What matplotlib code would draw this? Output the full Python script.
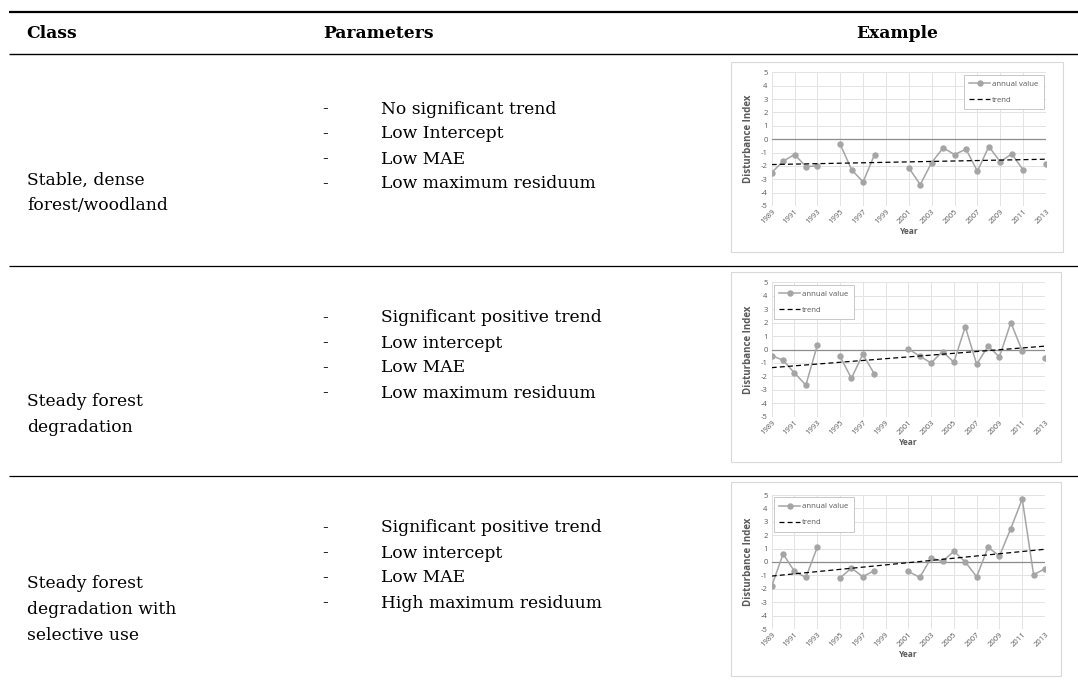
import numpy as np
import matplotlib
matplotlib.use("Agg")
import matplotlib.pyplot as plt
from matplotlib.lines import Line2D
from matplotlib.patches import Rectangle

# ---------------- data ----------------
years = list(range(1989, 2014))
nan = np.nan
stable_values = [-2.5, -1.65, -1.15, -2.05, -2.0, nan, -0.4, -2.3, -3.2, -1.15,
                 nan, nan, -2.15, -3.4, -1.75, -0.65, -1.15, -0.75, -2.4, -0.55,
                 -1.7, -1.1, -2.3, nan, -1.85]
steady_values = [-0.45, -0.8, -1.75, -2.65, 0.3, nan, -0.5, -2.15, -0.35, -1.8,
                 nan, nan, 0.05, -0.5, -1.0, -0.15, -0.95, 1.7, -1.1, 0.25,
                 -0.55, 2.0, -0.1, nan, -0.65]
selective_values = [-1.8, 0.6, -0.7, -1.15, 1.1, nan, -1.2, -0.45, -1.1, -0.65,
                    nan, nan, -0.7, -1.15, 0.3, 0.05, 0.8, 0.0, -1.1, 1.1,
                    0.45, 2.5, 4.7, -0.95, -0.5]
trend_years = [1989, 2013]
stable_trend = [-1.9, -1.5]
steady_trend = [-1.35, 0.25]
selective_trend = [-1.05, 0.95]

header = ["Class", "Parameters", "Example"]
class_labels = [["Stable, dense", "forest/woodland"],
                ["Steady forest", "degradation"],
                ["Steady forest", "degradation with", "selective use"]]
param_labels = [["No significant trend", "Low Intercept", "Low MAE", "Low maximum residuum"],
                ["Significant positive trend", "Low intercept", "Low MAE", "Low maximum residuum"],
                ["Significant positive trend", "Low intercept", "Low MAE", "High maximum residuum"]]
xtick_years = list(range(1989, 2014, 2))
yticks = list(range(-5, 6))

# ---------------- layout helpers ----------------
W, H = 1078, 684
fig = plt.figure(figsize=(W / 100, H / 100), dpi=100)

def fx(x):
    return x / W

def fy(y):
    return 1 - y / H

def hline(y, x0, x1, lw, color="black"):
    fig.add_artist(Line2D([fx(x0), fx(x1)], [fy(y), fy(y)], transform=fig.transFigure,
                          color=color, lw=lw, solid_capstyle="butt"))

serif = ["DejaVu Serif"]
sans = ["Open Sans", "DejaVu Sans"]
TXT = 12.3

# table rules
hline(12, 9, 1078, 1.6)
hline(54, 9, 1078, 1.0)
hline(266, 9, 1078, 0.9)
hline(476, 9, 1078, 0.9)

# header
fig.text(fx(26), fy(33), header[0], family=serif, fontsize=TXT, fontweight="bold", va="center", ha="left")
fig.text(fx(323), fy(33), header[1], family=serif, fontsize=TXT, fontweight="bold", va="center", ha="left")
fig.text(fx(897), fy(33), header[2], family=serif, fontsize=TXT, fontweight="bold", va="center", ha="center")

class_y = [[180, 206], [401, 427], [583, 609, 635]]
param_y = [[109, 134, 159, 184], [318, 343, 368, 393], [528, 553, 578, 603]]
for r in range(3):
    for lab, y in zip(class_labels[r], class_y[r]):
        fig.text(fx(27), fy(y), lab, family=serif, fontsize=TXT, va="center", ha="left")
    for lab, y in zip(param_labels[r], param_y[r]):
        fig.text(fx(322), fy(y), "-", family=serif, fontsize=TXT, va="center", ha="left")
        fig.text(fx(381), fy(y), lab, family=serif, fontsize=TXT, va="center", ha="left")

# ---------------- charts ----------------
charts = [
    (stable_values, stable_trend, (771.7, 1046, 72.3, 206), (731, 1063, 62, 252), "upper right"),
    (steady_values, steady_trend, (771.7, 1045, 282.3, 416.7), (731, 1061, 272, 462), "upper left"),
    (selective_values, selective_trend, (771.7, 1045, 495, 629), (731, 1061, 482, 676), "upper left"),
]

series_color = "#a5a5a5"
grid_color = "#e3e3e3"
tick_color = "#595959"

for vals, trend, (l, r, t, b), (il, ir, it, ib), loc in charts:
    fig.add_artist(Rectangle((fx(il), fy(ib)), fx(ir) - fx(il), fy(it) - fy(ib),
                             transform=fig.transFigure, fill=False, edgecolor="#d9d9d9", lw=0.8))
    ax = fig.add_axes([fx(l), fy(b), fx(r) - fx(l), fy(t) - fy(b)])
    ax.plot(years, vals, color=series_color, lw=1.1, marker="o", markersize=3.6,
            label="annual value", zorder=3)
    ax.plot(trend_years, trend, color="black", lw=0.9, ls=(0, (4, 2.5)), label="trend", zorder=4)
    ax.axhline(0, color="#8c8c8c", lw=0.9, zorder=2)
    ax.set_xlim(1989, 2013)
    ax.set_ylim(-5, 5)
    ax.set_xticks(xtick_years)
    ax.set_xticklabels([str(y) for y in xtick_years], rotation=45, ha="right",
                       rotation_mode="anchor", fontsize=5.5, color=tick_color, family=sans)
    ax.set_yticks(yticks)
    ax.set_yticklabels([str(v) for v in yticks], fontsize=5.5, color=tick_color, family=sans)
    ax.tick_params(length=0, pad=3)
    ax.tick_params(axis="x", pad=1.5)
    ax.grid(True, color=grid_color, lw=0.7)
    ax.set_axisbelow(True)
    for s in ax.spines.values():
        s.set_visible(False)
    ax.set_ylabel("Disturbance Index", fontsize=7, fontweight="bold", color=tick_color,
                  family=sans, labelpad=5)
    ax.set_xlabel("Year", fontsize=6, fontweight="bold", color=tick_color, family=sans, labelpad=1)
    leg = ax.legend(loc=loc, frameon=True, fancybox=False, framealpha=1,
                    edgecolor="#bfbfbf", handlelength=2.6, handletextpad=0.3,
                    borderpad=0.7, labelspacing=1.1, borderaxespad=0.3,
                    prop={"family": sans, "size": 5.6})
    leg.get_frame().set_linewidth(0.6)
    for txt in leg.get_texts():
        txt.set_color(tick_color)

fig.savefig("out.png", dpi=100)
